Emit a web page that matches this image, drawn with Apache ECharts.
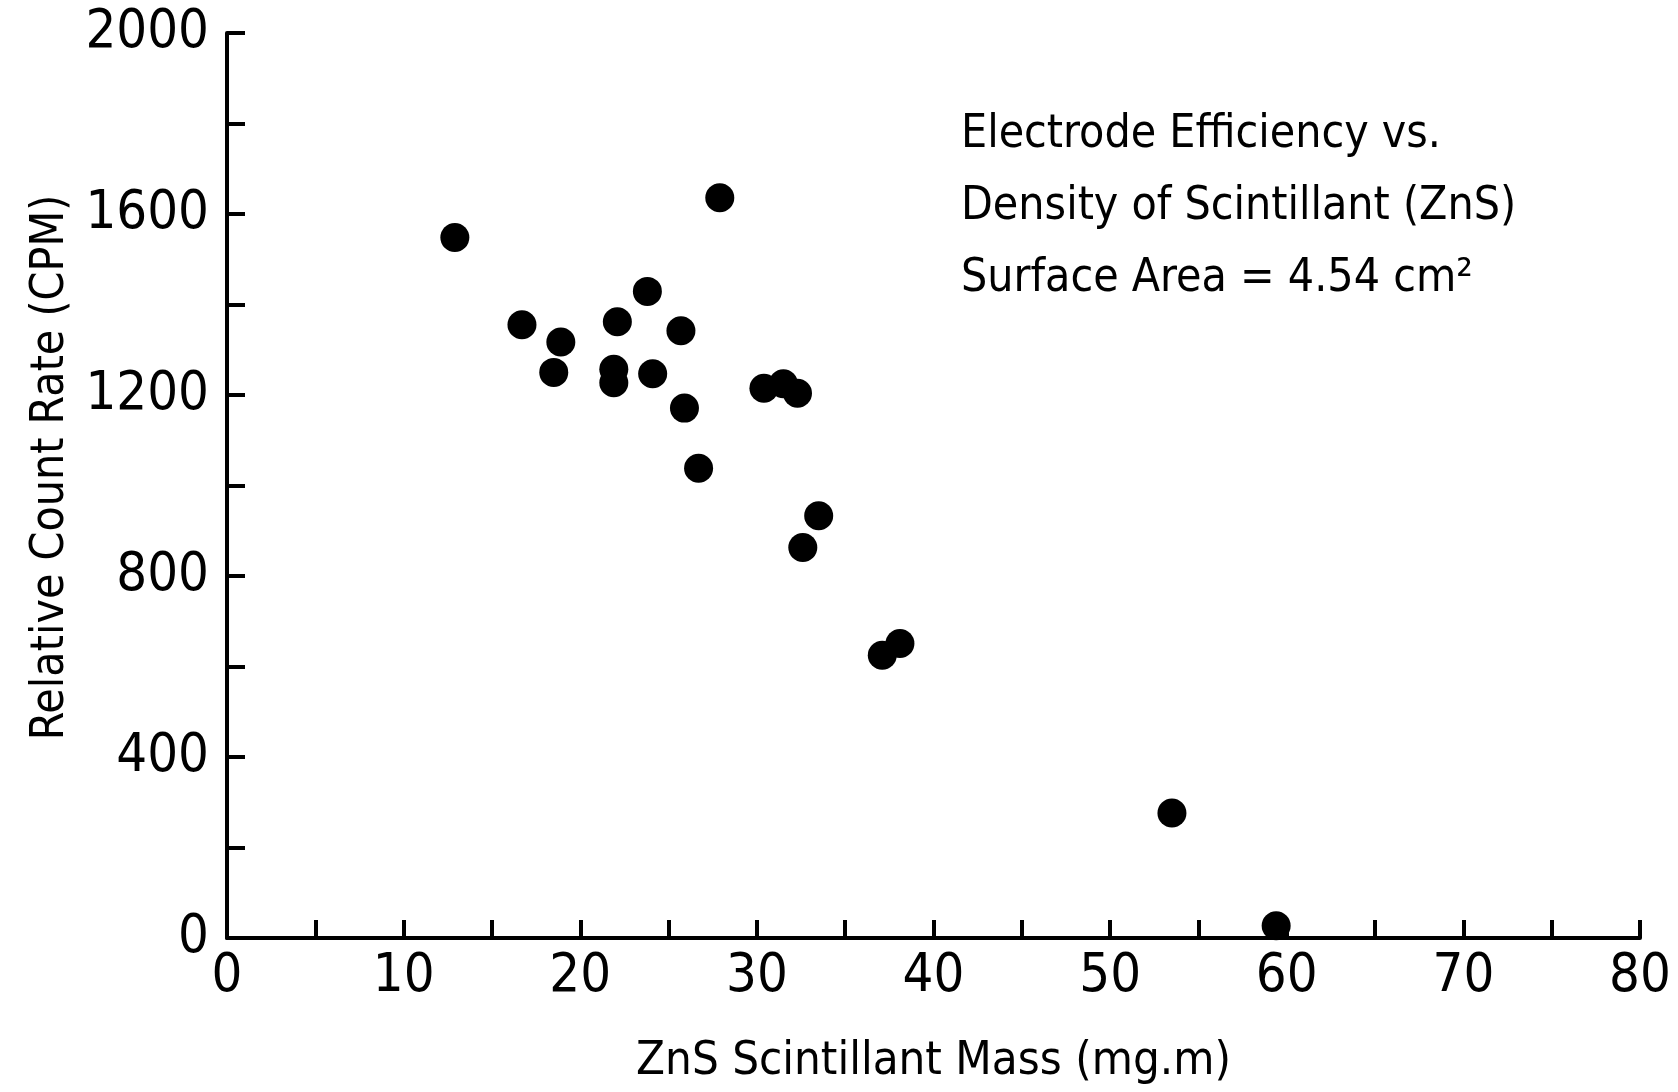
<!DOCTYPE html>
<html>
<head>
<meta charset="utf-8">
<script src="https://cdn.jsdelivr.net/npm/echarts@6/dist/echarts.min.js"></script>
<style>html,body{margin:0;padding:0;background:#fff}#c{width:1678px;height:1092px}</style>
</head>
<body>
<div id="c"></div>
<script>
const xMass = [12.9, 27.9, 23.8, 16.7, 22.1, 25.7, 18.9, 18.5, 21.9, 21.9, 24.1, 25.9, 26.7, 30.4, 31.5, 32.3, 33.5, 32.6, 37.1, 38.1, 53.5, 59.4];
const yRate = [1548, 1636, 1429, 1355, 1362, 1342, 1317, 1250, 1257, 1227, 1247, 1171, 1038, 1215, 1225, 1204, 933, 863, 625, 651, 276, 27];
const xTitle = 'ZnS Scintillant Mass (mg.m)';
const yTitle = 'Relative Count Rate (CPM)';
const annotation = ['Electrode Efficiency vs.', 'Density of Scintillant (ZnS)', 'Surface Area = 4.54 cm\u00B2'];

const FONT = '"DejaVu Sans Condensed", sans-serif';
const points = xMass.map((x, i) => [x, yRate[i]]);

const chart = echarts.init(document.getElementById('c'), null, {renderer: 'canvas'});
chart.setOption({
  backgroundColor: '#fff',
  animation: false,
  title: {
    text: annotation.join('\n'),
    left: 956, top: 94,
    textStyle: {fontFamily: FONT, fontSize: 46, fontWeight: 'normal', color: '#000', lineHeight: 72}
  },
  grid: {left: 227, right: 38, top: 33, bottom: 154, containLabel: false},
  xAxis: {
    type: 'value', min: 0, max: 80, interval: 5,
    name: xTitle, nameLocation: 'middle', nameGap: 100,
    nameTextStyle: {fontFamily: FONT, fontSize: 47, color: '#000'},
    axisLine: {show: true, onZero: false, lineStyle: {color: '#000', width: 4}},
    axisTick: {show: true, inside: true, length: 18, lineStyle: {color: '#000', width: 4}},
    splitLine: {show: false},
    axisLabel: {fontFamily: FONT, fontSize: 54, color: '#000', margin: 12,
      formatter: v => (v % 10 === 0 ? String(v) : '')}
  },
  yAxis: {
    type: 'value', min: 0, max: 2000, interval: 200,
    name: yTitle, nameLocation: 'middle', nameGap: 150, nameRotate: 90,
    nameTextStyle: {fontFamily: FONT, fontSize: 46, color: '#000', padding: [0, 0, 0, 36]},
    axisLine: {show: true, onZero: false, lineStyle: {color: '#000', width: 4}},
    axisTick: {show: true, inside: true, length: 18, lineStyle: {color: '#000', width: 4}},
    splitLine: {show: false},
    axisLabel: {fontFamily: FONT, fontSize: 54, color: '#000', margin: 18,
      formatter: v => (v % 400 === 0 ? String(v) : '')}
  },
  series: [{
    type: 'scatter',
    data: points,
    symbol: 'circle',
    symbolSize: 29,
    itemStyle: {color: '#000', opacity: 1}
  }]
});
</script>
</body>
</html>
